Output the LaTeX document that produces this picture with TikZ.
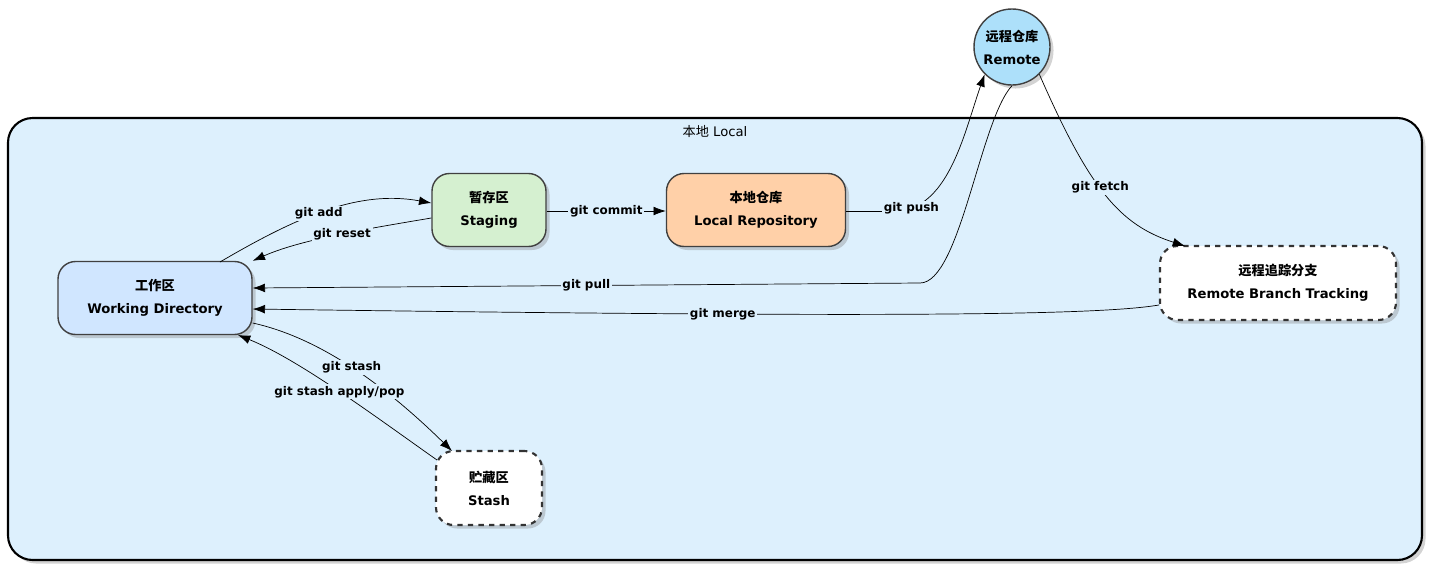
\documentclass[tikz,border=0pt]{standalone}
\usepackage{fontspec}
\setmainfont{DejaVu Sans}
\newfontfamily\cjk{Noto Sans CJK SC}
\usetikzlibrary{arrows.meta,shadows,calc}
\definecolor{cbg}{HTML}{DDF0FD}
\definecolor{crem}{HTML}{ADE0FA}
\definecolor{cstg}{HTML}{D5F0D0}
\definecolor{crep}{HTML}{FFD0A8}
\definecolor{cwrk}{HTML}{D0E6FF}
\tikzset{
 box/.style={draw=black!75,thick,rounded corners=10pt,align=center,font=\bfseries\fontsize{7.5}{13}\selectfont,drop shadow={opacity=0.35,shadow xshift=2pt,shadow yshift=-2pt}},
 dbox/.style={box,draw=black!80,very thick,dashed,fill=white},
 conn/.style={-{Latex[length=7pt,width=5pt]},thin},
 lbl/.style={fill=cbg,inner sep=1pt,font=\bfseries\fontsize{6.8}{8}\selectfont}
}
\begin{document}
\begin{tikzpicture}[x=0.02cm,y=-0.02cm]
\useasboundingbox (0,0) rectangle (1430,569);
\node[draw,very thick,fill=cbg,rounded corners=14pt,minimum width=1414*0.02cm,minimum height=442*0.02cm,drop shadow={opacity=0.35,shadow xshift=2pt,shadow yshift=-2pt}] (loc) at (715,339) {};
\node[font=\fontsize{7.5}{9}\selectfont] (loclbl) at (715,131) {{\cjk 本地} Local};
\node[circle,draw=black!75,thick,fill=crem,minimum size=76*0.02cm,align=center,font=\bfseries\fontsize{7.5}{13}\selectfont,inner sep=0pt,drop shadow={opacity=0.35,shadow xshift=2pt,shadow yshift=-2pt}] (rem) at (1012,47) {{\cjk 远程仓库}\\Remote};
\node[box,fill=cstg,minimum width=114*0.02cm,minimum height=73*0.02cm] (stg) at (489,210) {{\cjk 暂存区}\\Staging};
\node[box,fill=crep,minimum width=179*0.02cm,minimum height=73*0.02cm] (rep) at (756,210) {{\cjk 本地仓库}\\Local Repository};
\node[box,fill=cwrk,minimum width=194*0.02cm,minimum height=73*0.02cm] (wrk) at (155,298) {{\cjk 工作区}\\Working Directory};
\node[dbox,minimum width=236*0.02cm,minimum height=74*0.02cm] (trk) at (1278,283) {{\cjk 远程追踪分支}\\Remote Branch Tracking};
\node[dbox,minimum width=106*0.02cm,minimum height=74*0.02cm] (sta) at (489,488) {{\cjk 贮藏区}\\Stash};
\coordinate (pullmid) at (920,283);
\coordinate (pushmid) at (900,211);
\coordinate (addst) at (220,262);
\coordinate (fetchend) at (1185,246);
\coordinate (stashend) at (452,451);
\coordinate (popst) at (437,460);
\coordinate (popend) at (238,335);
\draw[conn] (addst) .. controls (300,215) and (360,190) .. (stg.west |- 0,203) node[lbl,pos=0.45] {git add};
\draw[conn] (stg.west |- 0,218) .. controls (360,230) and (300,240) .. (wrk.north east) node[lbl,pos=0.45] {git reset};
\draw[conn] (stg.east |- 0,211) -- (rep.west |- 0,211) node[lbl,midway] {git commit};
\draw (rep.east |- 0,211) -- (pushmid);
\draw[conn] (pushmid) .. controls (950,205) and (965,130) .. (rem.south west) node[lbl,pos=0.08] {git push};
\draw[conn] (rem.south) .. controls (980,120) and (960,283) .. (pullmid) -- (wrk.east |- 0,288) node[lbl,pos=0.5] {git pull};
\draw[conn] (rem.south east) .. controls (1090,190) and (1120,225) .. (fetchend) node[lbl,pos=0.45] {git fetch};
\draw[conn] (trk.west |- 0,305) .. controls (1100,315) and (900,318) .. (wrk.east |- 0,309) node[lbl,pos=0.7] {git merge};
\draw[conn] (wrk.east |- 0,323) .. controls (330,340) and (400,400) .. (stashend) node[lbl,pos=0.45] {git stash};
\draw[conn] (popst) .. controls (380,420) and (300,360) .. (popend) node[lbl,pos=0.5] {git stash apply/pop};
\end{tikzpicture}
\end{document}
